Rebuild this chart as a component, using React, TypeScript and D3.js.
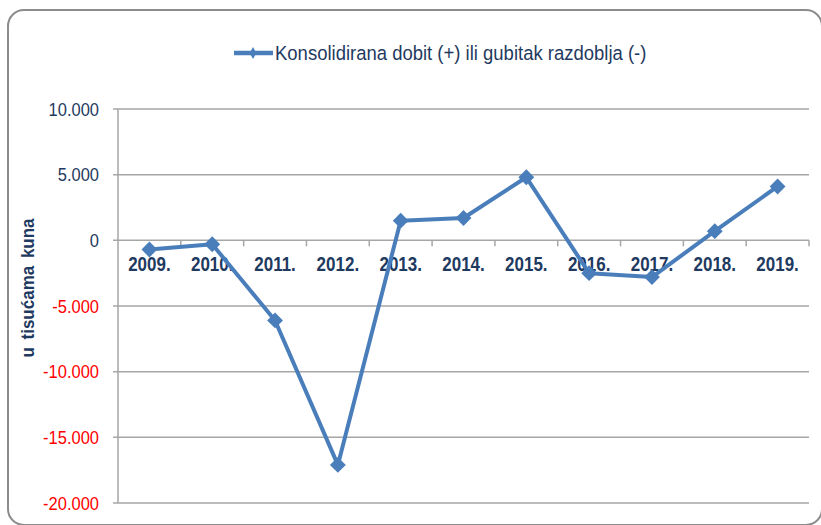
import * as d3 from "d3";
import React, { useRef, useEffect } from "react";

// chart data
const years = ["2009.", "2010.", "2011.", "2012.", "2013.", "2014.", "2015.", "2016.", "2017.", "2018.", "2019."];
const profit = [-700, -300, -6100, -17100, 1500, 1700, 4800, -2500, -2800, 700, 4100];
const yTicks = [10000, 5000, 0, -5000, -10000, -15000, -20000];
const seriesName = "Konsolidirana dobit (+) ili gubitak razdoblja (-)";
const yTitle = "u tisućama kuna";

const navy = "#1f3a5f";
const blue = "#4a7ebb";
const font = "'Liberation Sans', Arial, sans-serif";

export default function App() {
  const svgRef = useRef<SVGSVGElement>(null);
  const width = 821;
  const height = 525;
  const marginLeft = 118; // plot area left
  const plotRight = 809;
  const plotTop = 109;
  const plotBottom = 503;

  useEffect(() => {
    const svg = d3.select(svgRef.current);
    svg.selectAll("*").remove();

    // outer frame (right and bottom edges run off the picture)
    svg.append("rect")
      .attr("x", 8).attr("y", 10)
      .attr("width", 814).attr("height", 515)
      .attr("rx", 16)
      .attr("fill", "white")
      .attr("stroke", "#8c8c8c")
      .attr("stroke-width", 2);

    const xScale = d3.scaleBand().domain(years).range([marginLeft, plotRight]);
    const yScale = d3.scaleLinear().domain([-20000, 10000]).range([plotBottom, plotTop]);

    // grid lines + y ticks
    const grid = svg.append("g");
    grid.selectAll("line")
      .data(yTicks)
      .enter()
      .append("line")
      .attr("x1", marginLeft - 5)
      .attr("x2", plotRight)
      .attr("y1", d => yScale(d))
      .attr("y2", d => yScale(d))
      .attr("stroke", "#a6a6a6")
      .attr("stroke-width", 1.5);

    svg.append("line")
      .attr("x1", marginLeft).attr("x2", marginLeft)
      .attr("y1", plotTop).attr("y2", plotBottom)
      .attr("stroke", "#a6a6a6")
      .attr("stroke-width", 1.5);

    const fmt = (v: number) => d3.format(",")(v).replace(/,/g, ".").replace("−", "-");
    svg.append("g")
      .selectAll("text")
      .data(yTicks)
      .enter()
      .append("text")
      .text(d => fmt(d))
      .attr("transform", d => `translate(99, ${yScale(d) + 6.5}) scale(1, 1.12)`)
      .attr("text-anchor", "end")
      .style("font-family", font)
      .style("font-size", "16.5px")
      .style("fill", d => (d < 0 ? "#ff0000" : navy));

    // category ticks on zero line
    const zeroY = yScale(0);
    svg.append("g")
      .selectAll("line")
      .data(years)
      .enter()
      .append("line")
      .attr("x1", d => (xScale(d) as number) + xScale.bandwidth())
      .attr("x2", d => (xScale(d) as number) + xScale.bandwidth())
      .attr("y1", zeroY)
      .attr("y2", zeroY + 6)
      .attr("stroke", "#a6a6a6")
      .attr("stroke-width", 1.5);

    // category labels
    svg.append("g")
      .selectAll("text")
      .data(years)
      .enter()
      .append("text")
      .text(d => d)
      .attr("transform", d => `translate(${(xScale(d) as number) + xScale.bandwidth() / 2}, ${zeroY + 30.5}) scale(1, 1.15)`)
      .attr("text-anchor", "middle")
      .style("font-family", font)
      .style("font-weight", "bold")
      .style("font-size", "17px")
      .style("fill", navy);

    // the line
    const line = d3.line<number>()
      .x((d, i) => (xScale(years[i]) as number) + xScale.bandwidth() / 2)
      .y(d => yScale(d));

    svg.append("path")
      .datum(profit)
      .attr("d", line)
      .attr("fill", "none")
      .attr("stroke", blue)
      .attr("stroke-width", 4)
      .attr("stroke-linejoin", "round");

    const diamond = d3.symbol().type(d3.symbolDiamond2).size(160);
    svg.append("g")
      .selectAll("path")
      .data(profit)
      .enter()
      .append("path")
      .attr("d", diamond)
      .attr("transform", (d, i) => `translate(${(xScale(years[i]) as number) + xScale.bandwidth() / 2}, ${yScale(d)})`)
      .attr("fill", blue);

    // legend
    const lg = svg.append("g");
    lg.append("line")
      .attr("x1", 234).attr("x2", 273)
      .attr("y1", 53).attr("y2", 53)
      .attr("stroke", blue)
      .attr("stroke-width", 4.5);
    lg.append("path")
      .attr("d", d3.symbol().type(d3.symbolDiamond).size(40))
      .attr("transform", "translate(253, 53)")
      .attr("fill", blue);
    lg.append("text")
      .text(seriesName)
      .attr("transform", "translate(275, 60) scale(1, 1.12)")
      .style("font-family", font)
      .style("font-size", "18.5px")
      .style("fill", navy);

    // y title
    svg.append("text")
      .text(yTitle)
      .attr("transform", "translate(34, 288) rotate(-90) scale(1, 1.12)")
      .attr("text-anchor", "middle")
      .style("font-family", font)
      .style("font-weight", "bold")
      .style("font-size", "17px")
      .style("word-spacing", "3px")
      .style("fill", navy);
  }, []);

  return (
    <div>
      <svg
        ref={svgRef}
        width={width}
        height={height}
        style={{ position: "absolute", left: 0, top: 0, background: "white" }}
      />
    </div>
  );
}
